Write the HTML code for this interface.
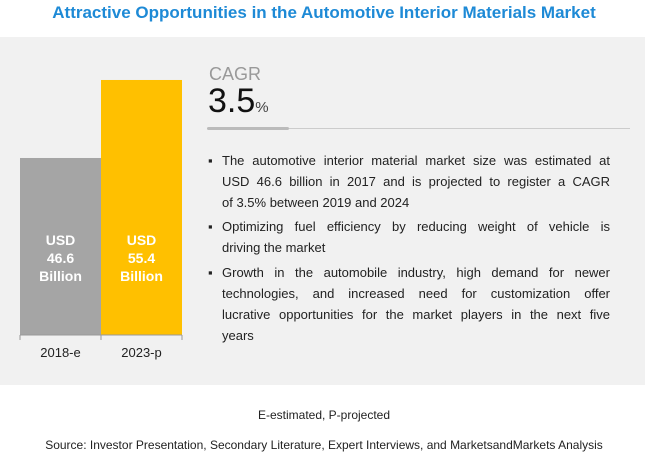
<!DOCTYPE html>
<html><head><meta charset="utf-8"><style>
body{margin:0;width:648px;height:458px;background:#fff;font-family:"Liberation Sans",sans-serif;position:relative;overflow:hidden}
.abs{position:absolute}
#title{left:0;width:648px;top:3px;text-align:center;color:#1e8ad6;font-weight:bold;font-size:17px}
#panel{left:0;top:37px;width:645px;height:348px;background:#f1f1f1}
.bul{left:208px;width:402px;font-size:13px;line-height:21px;color:#222}
.bul span.b{position:absolute;left:0;top:0}
.bul div{margin-left:14px}
.bul div p{margin:0;text-align:justify;text-align-last:justify;white-space:nowrap}
.bul div p.l{text-align-last:left}
</style></head><body>
<div class="abs" id="title">Attractive Opportunities in the Automotive Interior Materials Market</div>
<div class="abs" id="panel"></div>
<svg class="abs" style="left:0;top:0" width="648" height="458" id="chart"></svg>
<div class="abs" style="left:209px;top:64px;font-size:18px;color:#999">CAGR</div>
<div class="abs" style="left:208px;top:82px;font-size:34px;color:#111">3.5<span style="font-size:15px;color:#444">%</span></div>
<div class="abs" style="left:207px;top:128px;width:423px;height:1px;background:#ccc"></div>
<div class="abs" style="left:207px;top:127px;width:82px;height:3px;background:#bbb;border-radius:2px"></div>
<div class="abs bul" style="top:150px"><span class="b">▪</span><div><p>The automotive interior material market size was estimated at</p><p>USD 46.6 billion in 2017 and is projected to register a CAGR</p><p class="l">of 3.5% between 2019 and 2024</p></div></div>
<div class="abs bul" style="top:216px"><span class="b">▪</span><div><p>Optimizing fuel efficiency by reducing weight of vehicle is</p><p class="l">driving the market</p></div></div>
<div class="abs bul" style="top:262px"><span class="b">▪</span><div><p>Growth in the automobile industry, high demand for newer</p><p>technologies, and increased need for customization offer</p><p>lucrative opportunities for the market players in the next five</p><p class="l">years</p></div></div>
<div class="abs" style="left:0;width:648px;top:408px;text-align:center;font-size:12px;color:#222">E-estimated, P-projected</div>
<div class="abs" style="left:0;width:648px;top:438px;text-align:center;font-size:12px;color:#222">Source: Investor Presentation, Secondary Literature, Expert Interviews, and MarketsandMarkets Analysis</div>
<script>
const categories=["2018-e","2023-p"];
const values=[46.6,55.4];
const valueLabels=["46.6","55.4"];
const colors=["#a5a5a5","#ffc000"];
const ns="http://www.w3.org/2000/svg";
const svg=document.getElementById('chart');
const x0=20,bw=81,base=335,dMin=26.63,k=8.864;
const y=v=>base-(v-dMin)*k;
function mk(t,a){const e=document.createElementNS(ns,t);for(const q in a)e.setAttribute(q,a[q]);svg.appendChild(e);return e;}
categories.forEach((c,i)=>{
  const r=mk('rect',{x:x0+i*bw,y:y(values[i]),width:bw,height:base-y(values[i]),fill:colors[i]});
  
  
  const cx=x0+i*bw+bw/2;
  const lines=["USD",valueLabels[i],"Billion"];
  lines.forEach((l,j)=>{
    const t=mk('text',{x:cx,y:245+j*18,'text-anchor':'middle','font-size':'14','font-weight':'bold',fill:'#fff'});
    t.textContent=l;
    
    
  });
  const tl=mk('text',{x:cx,y:357,'text-anchor':'middle','font-size':'13',fill:'#222'});
  tl.textContent=c;
  
  
  const tk=mk('line',{x1:x0+i*bw,x2:x0+i*bw,y1:base,y2:base+5,stroke:'#999'});
  
  
});
const ax=mk('line',{x1:x0,x2:x0+2*bw,y1:base,y2:base,stroke:'#999'});


const te=mk('line',{x1:x0+2*bw,x2:x0+2*bw,y1:base,y2:base+5,stroke:'#999'});


</script>
</body></html>
